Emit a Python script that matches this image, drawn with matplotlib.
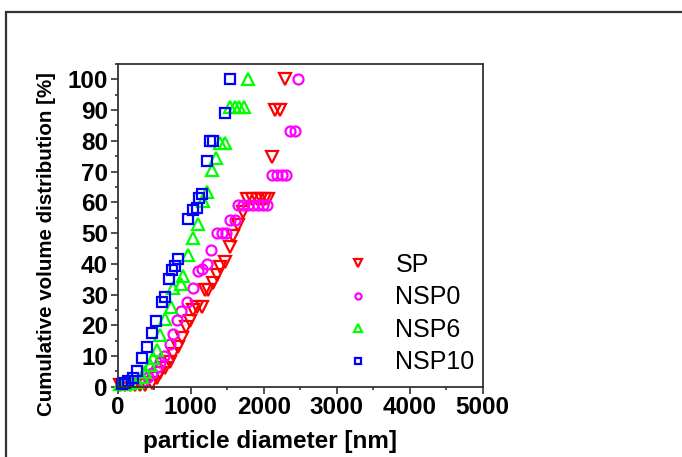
import matplotlib
matplotlib.use("Agg")
import matplotlib.pyplot as plt
from matplotlib.patches import Rectangle
from matplotlib.ticker import MultipleLocator

plt.rcParams['font.family'] = ['Liberation Sans', 'DejaVu Sans']

# ---- data ----
sp_x = [32, 100, 168, 237, 305, 374, 466, 534, 580, 648, 716, 762, 830, 877, 936, 990,
        1030, 1091, 1151, 1200, 1242, 1300, 1356, 1401, 1470, 1538, 1584, 1652, 1721,
        1767, 1836, 1904, 1963, 2018, 2063, 2110, 2155, 2224, 2293]
sp_y = [0.5, 0.5, 0.5, 0.5, 0.5, 0.5, 1.1, 2.7, 4.4, 6.0, 8.1, 10.8, 13.0, 15.7, 19.5, 21.5,
        24.9, 26.0, 26.0, 31.4, 31.4, 33.6, 36.5, 38.8, 40.6, 45.5, 49.0, 52.5, 56.8,
        61, 61, 61, 61, 61, 61, 74.7, 90, 90, 100]

nsp0_x = [350, 410, 470, 535, 580, 640, 716, 760, 815, 865, 955, 1025, 1095, 1150, 1220,
          1275, 1360, 1425, 1484, 1538, 1607, 1652, 1721, 1789, 1858, 1926, 1995, 2041,
          2110, 2178, 2247, 2301, 2360, 2429, 2474]
nsp0_y = [2.0, 3.0, 4.3, 6.5, 8.1, 10.0, 14.0, 17.0, 21.7, 24.6, 27.6, 32.0, 37.8, 38.2, 40.0,
          44.5, 50, 50, 50, 54.1, 54.1, 59.2, 59.2, 59.2, 59.2, 59.2, 59.2, 59.2,
          69, 69, 69, 69, 83.3, 83.3, 100]

nsp6_x = [30, 100, 170, 260, 330, 375, 440, 490, 535, 580, 650, 725, 760, 865, 900, 965,
          1025, 1105, 1165, 1220, 1290, 1345, 1400, 1470, 1540, 1605, 1665, 1730, 1790]
nsp6_y = [1.0, 1.0, 1.1, 1.6, 3.2, 4.9, 7.0, 9.2, 12.0, 16.8, 22.0, 26.0, 32.0, 33.3, 36.0, 43.0,
          48.5, 53.0, 60.5, 63.3, 70.5, 74.5, 79.2, 79.2, 91, 91, 91, 91, 100]

nsp10_x = [60, 100, 140, 205, 260, 333, 397, 466, 525, 603, 648, 707, 740, 785, 830, 967,
           1027, 1082, 1120, 1151, 1219, 1264, 1310, 1470, 1538]
nsp10_y = [1.0, 1.2, 1.8, 2.8, 5.2, 9.2, 13.0, 17.5, 21.4, 27.6, 29.2, 34.9, 37.9, 39.3, 41.4, 54.7,
           57.6, 58.0, 61.5, 62.8, 73.6, 79.8, 79.8, 89.1, 100]

series = [
    ("SP", sp_x, sp_y, "v", "#FF0000", 9.2),
    ("NSP0", nsp0_x, nsp0_y, "o", "#FF00FF", 7.2),
    ("NSP6", nsp6_x, nsp6_y, "^", "#00FF00", 9.2),
    ("NSP10", nsp10_x, nsp10_y, "s", "#0000FF", 6.7),
]

W, H = 682, 457
fig = plt.figure(figsize=(W / 100, H / 100), dpi=100)
fig.patch.set_facecolor("white")

# outer frame
fig.patches.append(Rectangle((6 / W, -0.1), 1.2, (H - 12) / H + 0.1, transform=fig.transFigure,
                             fill=False, edgecolor="#333333", linewidth=1.6))

ax = fig.add_axes([117.7 / W, (H - 386.7) / H, 365 / W, 322.7 / H])

for name, xs, ys, m, c, ms in series:
    ax.plot(xs, ys, linestyle="none", marker=m, markersize=ms, markerfacecolor="none",
            markeredgecolor=c, markeredgewidth=1.6, label=name, clip_on=False)

ax.set_xlim(0, 5000)
ax.set_ylim(0, 105)
ax.xaxis.set_major_locator(MultipleLocator(1000))
ax.xaxis.set_minor_locator(MultipleLocator(500))
ax.yaxis.set_major_locator(MultipleLocator(10))
ax.yaxis.set_minor_locator(MultipleLocator(5))

for s in ax.spines.values():
    s.set_color("#333333")
    s.set_linewidth(1.3)

ax.tick_params(which="major", direction="out", length=5, width=1.2, color="#333333",
               labelsize=17.5, pad=2)
ax.tick_params(which="minor", direction="out", length=2.5, width=1.2, color="#333333")
ax.tick_params(top=False, right=False)
for lab in ax.get_xticklabels() + ax.get_yticklabels():
    lab.set_fontweight("bold")

ax.set_xlabel("particle diameter [nm]", fontsize=17.5, fontweight="bold")
ax.xaxis.set_label_coords(0.417, -0.135)
ax.set_ylabel("Cumulative volume distribution [%]", fontsize=14.8, fontweight="bold")
ax.yaxis.set_label_coords(-0.168, 0.442)

leg = ax.legend(loc="upper left", bbox_to_anchor=(0.624, 0.415), frameon=False, fontsize=18,
                markerscale=0.62, handlelength=1.0, handletextpad=1.0, labelspacing=0.34,
                borderpad=0, borderaxespad=0)

fig.savefig("out.png", dpi=100)
